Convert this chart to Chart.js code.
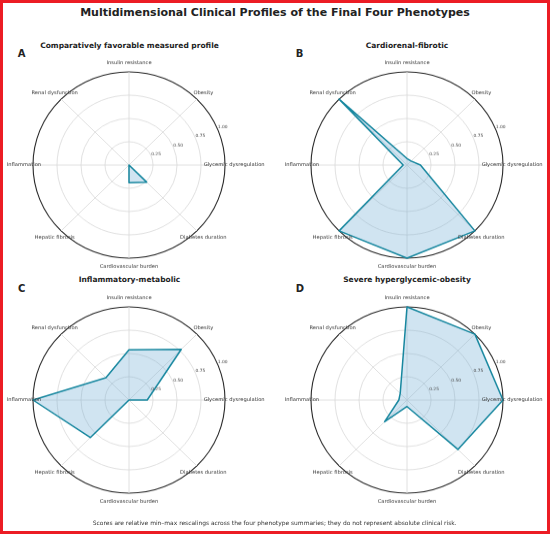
<!DOCTYPE html>
<html>
<head>
<meta charset="utf-8">
<script src="https://cdn.jsdelivr.net/npm/chart.js@4.4.1/dist/chart.umd.min.js"></script>
<style>
  html, body { margin:0; padding:0; background:#fff; }
  #root { position:absolute; left:0; top:0; width:550px; height:534px; overflow:hidden; background:#fff; font-family:"DejaVu Sans", sans-serif; }
  #frame { position:absolute; left:0; top:0; width:550px; height:534px; box-sizing:border-box; border:3px solid #ec1c24; pointer-events:none; }
  .txt { position:absolute; white-space:nowrap; line-height:1; transform:translate(-50%,-50%); color:#222; }
  .wrap { position:absolute; width:300px; height:260px; transform:scaleY(0.97); transform-origin:150px 130px; }
  canvas { display:block; }
</style>
</head>
<body>
<div id="root">
  <div class="txt" style="left:275px; top:12px; font-size:11px; font-weight:bold;">Multidimensional Clinical Profiles of the Final Four Phenotypes</div>

  <div class="txt" style="left:129.5px; top:45.5px; font-size:7.5px; font-weight:bold;">Comparatively favorable measured profile</div>
  <div class="txt" style="left:407px; top:45.5px; font-size:7.5px; font-weight:bold;">Cardiorenal-fibrotic</div>
  <div class="txt" style="left:129.5px; top:280px; font-size:7.5px; font-weight:bold;">Inflammatory-metabolic</div>
  <div class="txt" style="left:407px; top:280px; font-size:7.5px; font-weight:bold;">Severe hyperglycemic-obesity</div>

  <div class="txt" style="left:21.7px; top:54px; font-size:10px; font-weight:bold;">A</div>
  <div class="txt" style="left:299.5px; top:54px; font-size:10px; font-weight:bold;">B</div>
  <div class="txt" style="left:21.7px; top:289px; font-size:10px; font-weight:bold;">C</div>
  <div class="txt" style="left:300px; top:289px; font-size:10px; font-weight:bold;">D</div>

  <div class="wrap" style="left:-21px; top:35px;"><canvas id="cA" width="300" height="260"></canvas></div>
  <div class="wrap" style="left:257px; top:35px;"><canvas id="cB" width="300" height="260"></canvas></div>
  <div class="wrap" style="left:-21px; top:270px;"><canvas id="cC" width="300" height="260"></canvas></div>
  <div class="wrap" style="left:257px; top:270px;"><canvas id="cD" width="300" height="260"></canvas></div>

  <div class="txt" style="left:274.7px; top:523px; font-size:5.95px; color:#333;">Scores are relative min–max rescalings across the four phenotype summaries; they do not represent absolute clinical risk.</div>
  <div id="frame"></div>
</div>

<script>
// ---- data ----
const axisLabels = ['Insulin resistance', 'Obesity', 'Glycemic dysregulation', 'Diabetes duration',
                    'Cardiovascular burden', 'Hepatic fibrosis', 'Inflammation', 'Renal dysfunction'];
const tickValues = [0.25, 0.5, 0.75, 1.0];
const tickLabels = ['0.25', '0.50', '0.75', '1.00'];

const favorableValues     = [0.00, 0.00, 0.00, 0.26, 0.19, 0.00, 0.00, 0.00];
const cardiorenalValues   = [0.07, 0.06, 0.14, 1.00, 1.00, 1.00, 0.04, 1.00];
const inflammatoryValues  = [0.54, 0.77, 0.19, 0.00, 0.00, 0.57, 1.00, 0.34];
const hyperglycemicValues = [1.00, 1.00, 1.00, 0.75, 0.07, 0.33, 0.085, 0.10];

// ---- styling ----
const LINE = '#17879f';
const FILL = 'rgba(110,172,212,0.32)';
const GRID = '#d8d8d8';
const SPINE = '#262626';

const labelPlugin = {
  id: 'polarLabels',
  afterDraw(chart) {
    const s = chart.scales.r;
    const ctx = chart.ctx;
    ctx.save();
    ctx.fillStyle = '#333';
    ctx.font = '5.2px "DejaVu Sans"';
    ctx.textAlign = 'center';
    ctx.textBaseline = 'middle';
    axisLabels.forEach((lab, i) => {
      const p = s.getPointPositionForValue(i, 1.095);
      ctx.fillText(lab, p.x, p.y);
    });
    ctx.font = '4.4px "DejaVu Sans"';
    ctx.textAlign = 'left';
    ctx.textBaseline = 'bottom';
    ctx.fillStyle = '#444';
    tickValues.forEach((v, k) => {
      const p = s.getPointPositionForValue(1.5, v);
      ctx.fillText(tickLabels[k], p.x, p.y);
    });
    ctx.restore();
  }
};

function makeRadar(id, values) {
  return new Chart(document.getElementById(id), {
    type: 'radar',
    data: {
      labels: axisLabels,
      datasets: [{
        data: values,
        borderColor: LINE,
        backgroundColor: FILL,
        borderWidth: 1.5,
        borderJoinStyle: 'round',
        pointRadius: 0,
        pointHoverRadius: 0,
        fill: true,
        tension: 0
      }]
    },
    options: {
      responsive: false,
      animation: false,
      devicePixelRatio: 1,
      layout: { padding: { left: 54, right: 54, top: 34, bottom: 34 } },
      plugins: { legend: { display: false }, tooltip: { enabled: false }, title: { display: false } },
      scales: {
        r: {
          min: 0, max: 1,
          ticks: { display: false, stepSize: 0.25 },
          pointLabels: { display: false },
          grid: {
            circular: true,
            color: c => (c.tick && c.tick.value >= 1) ? SPINE : GRID,
            lineWidth: c => (c.tick && c.tick.value >= 1) ? 1.1 : 0.8
          },
          angleLines: { color: GRID, lineWidth: 0.8 }
        }
      }
    },
    plugins: [labelPlugin]
  });
}

makeRadar('cA', favorableValues);
makeRadar('cB', cardiorenalValues);
makeRadar('cC', inflammatoryValues);
makeRadar('cD', hyperglycemicValues);
</script>
</body>
</html>
